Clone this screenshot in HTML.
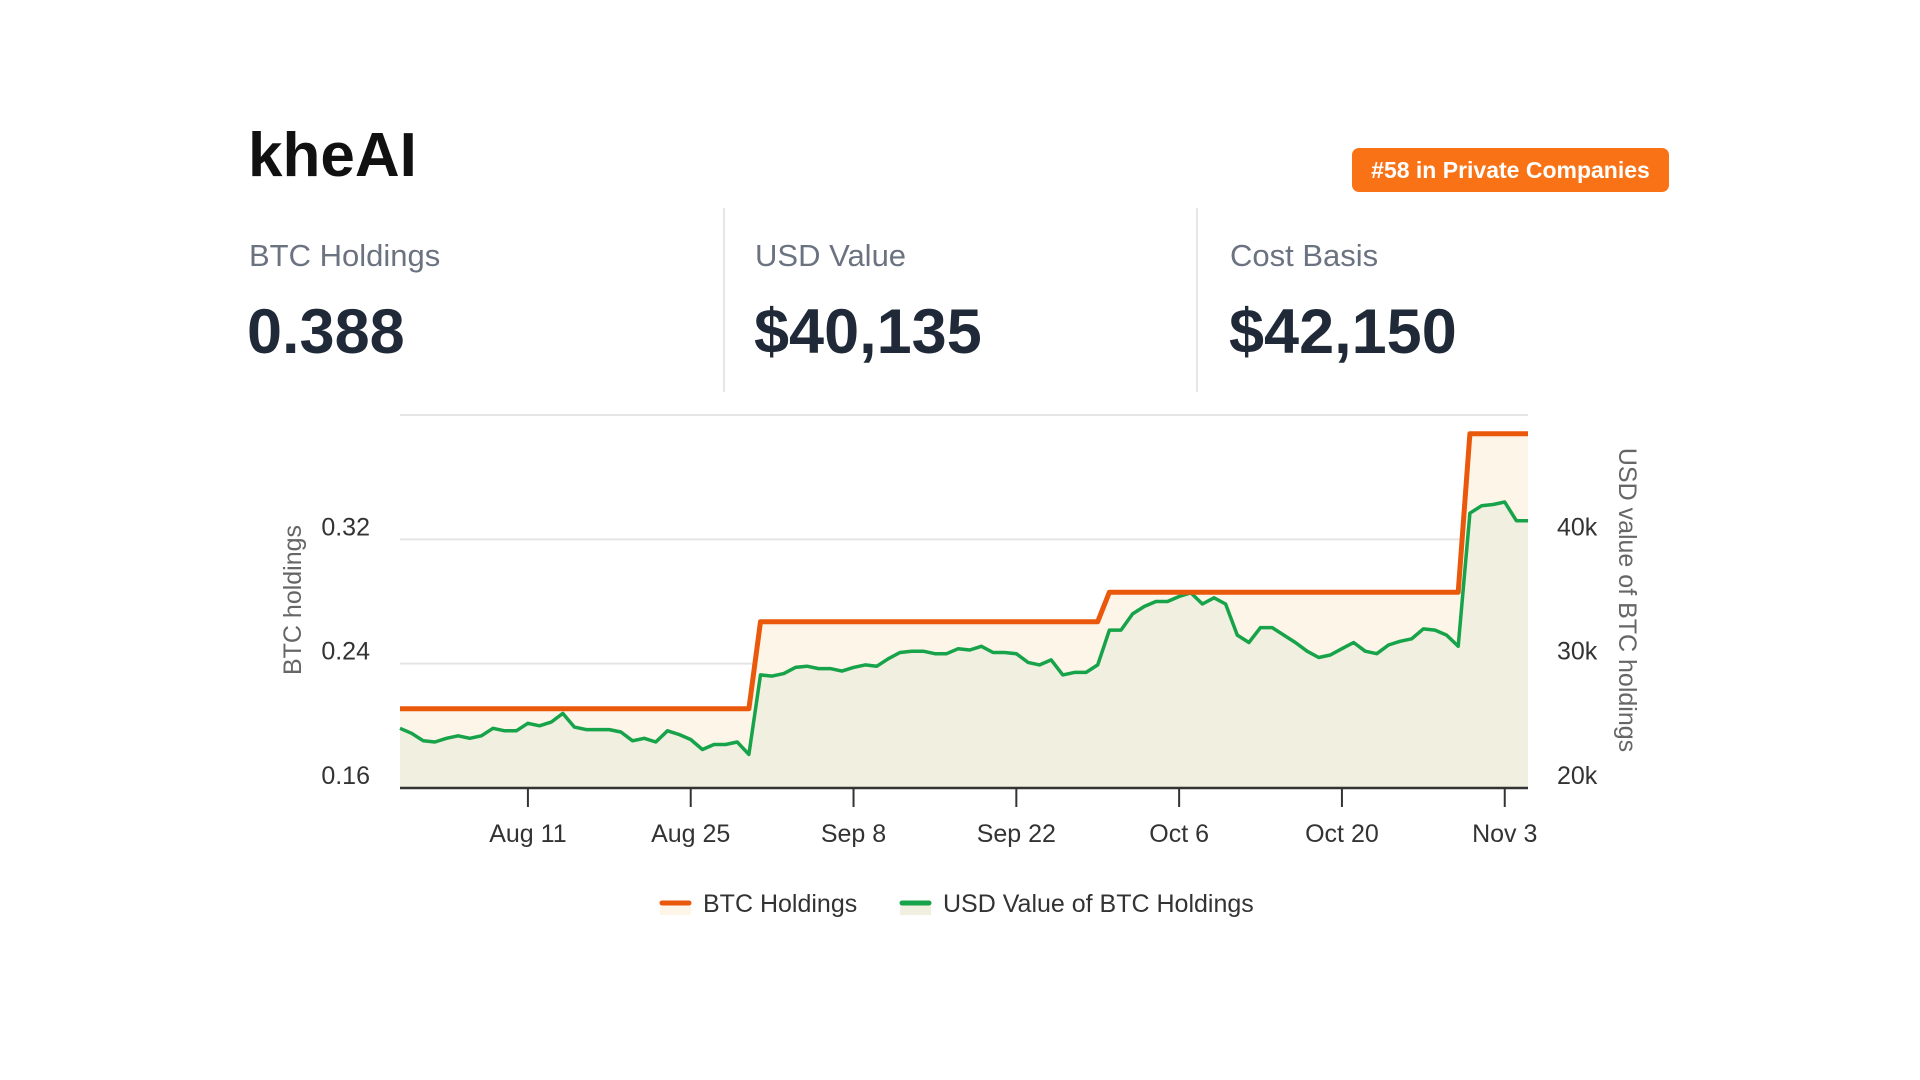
<!DOCTYPE html>
<html><head><meta charset="utf-8"><style>
body{margin:0;width:1920px;height:1080px;background:#fff;font-family:"Liberation Sans",sans-serif;position:relative;overflow:hidden}
.abs{position:absolute}
.lbl{font-size:31px;color:#6b7280}
.val{font-size:63px;font-weight:bold;color:#1f2937}
</style></head><body>
<div class="abs" style="left:248px;top:120px;font-size:62px;font-weight:bold;color:#111;line-height:72px">kheAI</div>
<div class="abs" style="left:1352px;top:148px;width:317px;height:44px;background:#f97316;border-radius:7px;color:#fff;font-size:23px;font-weight:bold;line-height:44px;text-align:center">#58 in Private Companies</div>
<div class="abs" style="left:723px;top:208px;width:2px;height:184px;background:#e5e7eb"></div>
<div class="abs" style="left:1196px;top:208px;width:2px;height:184px;background:#e5e7eb"></div>
<div class="abs lbl" style="left:249px;top:238px">BTC Holdings</div>
<div class="abs lbl" style="left:755px;top:238px">USD Value</div>
<div class="abs lbl" style="left:1230px;top:238px">Cost Basis</div>
<div class="abs val" style="left:247px;top:296px">0.388</div>
<div class="abs val" style="left:754px;top:296px">$40,135</div>
<div class="abs val" style="left:1229px;top:296px">$42,150</div>
<svg class="abs" style="left:0;top:0" width="1920" height="1080" id="chart" font-family="Liberation Sans, sans-serif"></svg>
<script>
const btcHoldings=[0.211,0.267,0.286,0.388];
const btcStepStartDay=[0,31,61,92];
const usdValuesK=[24.8,24.4,23.8,23.7,24.0,24.2,24.0,24.2,24.8,24.6,24.6,25.2,25.0,25.3,26.0,24.9,24.7,24.7,24.7,24.5,23.8,24.0,23.7,24.6,24.3,23.9,23.1,23.5,23.5,23.7,22.7,29.1,29.0,29.2,29.7,29.8,29.6,29.6,29.4,29.7,29.9,29.8,30.4,30.9,31.0,31.0,30.8,30.8,31.2,31.1,31.4,30.9,30.9,30.8,30.1,29.9,30.3,29.1,29.3,29.3,29.9,32.7,32.7,34.0,34.6,35.0,35.0,35.4,35.7,34.8,35.3,34.8,32.3,31.7,32.9,32.9,32.3,31.7,31.0,30.5,30.7,31.2,31.7,31.0,30.8,31.5,31.8,32.0,32.8,32.7,32.3,31.4,42.1,42.7,42.8,43.0,41.5,41.5];
const leftTicks=[0.16,0.24,0.32];
const leftTickLabels=["0.16","0.24","0.32"];
const rightTicks=[20,30,40];
const rightTickLabels=["20k","30k","40k"];
const xTickDays=[11,25,39,53,67,81,95];
const xTickLabels=["Aug 11","Aug 25","Sep 8","Sep 22","Oct 6","Oct 20","Nov 3"];
const gridValues=[0.24,0.32,0.40];

const L=400,R=1528,T=415,B=788,nDays=usdValuesK.length-1;
const X=d=>L+(R-L)*d/nDays;
const YL=v=>B-(v-0.16)/(0.40-0.16)*(B-T);
const YR=v=>B-(v-20)/(50-20)*(B-T);
const svg=document.getElementById('chart');
const NS='http://www.w3.org/2000/svg';
function mk(tag,attrs,parent){const e=document.createElementNS(NS,tag);for(const k in attrs)e.setAttribute(k,attrs[k]);(parent||svg).appendChild(e);return e;}

gridValues.forEach((g,i)=>{const l=mk('line',{x1:L,x2:R,y1:YL(g),y2:YL(g),stroke:'#e5e5e5','stroke-width':2});

});

function btcAt(d){let v=btcHoldings[0];for(let i=0;i<btcStepStartDay.length;i++)if(d>=btcStepStartDay[i])v=btcHoldings[i];return v;}
const oPts=[];for(let d=0;d<=nDays;d++)oPts.push([X(d),YL(btcAt(d))]);
const gPts=usdValuesK.map((v,d)=>[X(d),YR(v)]);
const str=p=>p.map(q=>q[0].toFixed(1)+','+q[1].toFixed(1)).join(' ');
const oArea=mk('polygon',{points:str(oPts)+` ${R},${B} ${L},${B}`,fill:'#fdf5e7'});


const gArea=mk('polygon',{points:str(gPts)+` ${R},${B} ${L},${B}`,fill:'#f1efdf'});


const gLine=mk('polyline',{points:str(gPts),fill:'none',stroke:'#16a34a','stroke-width':3.5,'stroke-linejoin':'round'});


const oLine=mk('polyline',{points:str(oPts),fill:'none',stroke:'#ea580c','stroke-width':5,'stroke-linejoin':'round'});



const ax=mk('line',{x1:L,x2:R,y1:B,y2:B,stroke:'#333','stroke-width':2.5});


xTickDays.forEach((d,i)=>{
 const t=mk('line',{x1:X(d),x2:X(d),y1:B,y2:B+19,stroke:'#333','stroke-width':2});
 
 
 const tx=mk('text',{x:X(d),y:842,'text-anchor':'middle','font-size':25,fill:'#333'});tx.textContent=xTickLabels[i];
 
 
});
leftTicks.forEach((v,i)=>{const tx=mk('text',{x:370,y:YL(v)-4,'text-anchor':'end','font-size':25,fill:'#333'});tx.textContent=leftTickLabels[i];
 
 });
rightTicks.forEach((v,i)=>{const tx=mk('text',{x:1557,y:YR(v)-4,'text-anchor':'start','font-size':25,fill:'#333'});tx.textContent=rightTickLabels[i];
 
 });
const yt=mk('text',{x:0,y:0,transform:'translate(301,600) rotate(-90)','text-anchor':'middle','font-size':25,fill:'#666'});yt.textContent='BTC holdings';


const yt2=mk('text',{x:0,y:0,transform:'translate(1619,600) rotate(90)','text-anchor':'middle','font-size':25,fill:'#666'});yt2.textContent='USD value of BTC holdings';



[[660,703,'#ea580c','#fdf5e7','BTC Holdings','legend-btc-holdings'],[900,943,'#16a34a','#f1efdf','USD Value of BTC Holdings','legend-usd-value']].forEach(e=>{
 const g=mk('g',{});
 
 
 mk('rect',{x:e[0],y:903,width:31,height:12,fill:e[3]},g);
 mk('line',{x1:e[0]+2,x2:e[0]+29,y1:903,y2:903,stroke:e[2],'stroke-width':5,'stroke-linecap':'round'},g);
 const t=mk('text',{x:e[1],y:912,'font-size':25,fill:'#333'},g);t.textContent=e[4];
});
</script>
</body></html>
